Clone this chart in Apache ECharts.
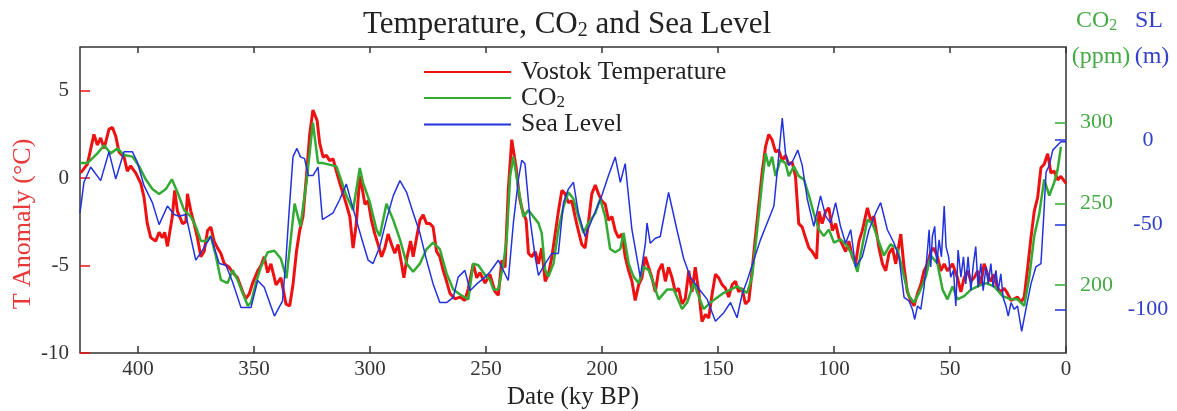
<!DOCTYPE html>
<html>
<head>
<meta charset="utf-8">
<script src="https://cdn.jsdelivr.net/npm/echarts@6/dist/echarts.min.js"></script>
<style>html,body{margin:0;padding:0;background:#fff}#c{width:1177px;height:411px}</style>
</head>
<body>
<div id="c"></div>
<script>
// ---- data (ky BP, value) ----
const tempAge = [424.7,421.8,419.0,417.5,416.1,414.6,412.5,411.0,409.6,408.2,406.0,404.6,403.2,401.0,398.8,397.4,396.0,394.5,392.4,390.9,389.5,388.5,387.3,385.2,384.2,383.0,380.8,379.4,378.7,377.2,375.8,374.4,372.9,371.5,370.0,368.6,367.2,365.7,364.3,362.8,360.7,359.2,357.1,354.9,353.5,352.0,350.6,348.4,347.0,345.6,344.1,342.7,340.5,338.4,336.2,334.6,333.2,331.7,330.3,328.9,327.4,326.0,324.6,323.8,322.8,321.7,320.2,318.8,317.4,315.9,314.5,313.0,311.6,310.2,308.7,307.3,305.9,304.4,303.2,302.2,300.8,299.4,297.9,296.5,295.0,293.6,292.2,290.7,289.3,287.9,286.4,285.4,284.0,282.5,281.4,279.9,278.5,277.1,275.6,274.2,272.8,271.3,269.9,268.4,267.0,265.5,263.4,261.2,259.1,257.6,255.5,254.0,252.6,250.4,248.3,246.1,244.7,243.2,241.8,240.4,238.9,238.2,237.0,235.6,234.2,232.7,231.7,230.3,228.8,227.4,226.0,224.5,223.1,221.6,220.2,218.8,217.3,215.9,214.5,213.0,211.6,210.2,208.7,207.3,205.9,204.4,202.9,201.5,200.1,198.6,197.2,195.7,194.3,192.9,191.4,190.0,188.5,187.1,185.7,184.2,182.8,181.3,179.9,178.5,177.0,175.6,174.1,172.7,171.3,169.8,168.4,167.0,165.5,164.1,162.6,161.2,159.8,158.3,156.9,155.4,154.0,152.5,151.1,149.7,148.2,146.8,145.4,143.9,142.5,141.1,139.6,138.2,136.7,135.3,133.9,132.4,131.0,129.5,128.1,126.7,125.2,123.8,122.3,120.9,119.5,118.0,116.6,115.2,113.7,112.3,110.8,109.4,107.5,106.5,105.1,103.6,102.2,100.7,99.3,97.9,96.4,95.0,93.6,92.1,90.7,89.2,87.8,85.6,84.2,82.8,80.6,79.1,77.7,76.3,74.8,73.4,71.2,69.8,68.4,66.9,65.5,64.0,62.6,61.2,59.7,58.3,56.9,55.4,54.0,52.5,51.1,48.9,46.8,45.3,43.9,42.4,41.0,39.6,38.1,36.7,35.3,33.8,32.4,31.0,29.5,28.1,26.6,25.2,23.7,22.3,20.9,19.4,18.0,16.5,15.1,13.7,12.2,10.8,9.4,7.9,6.5,5.1,3.6,2.2,0.0];
const tempVal = [0.3,0.8,2.5,1.9,2.3,1.7,2.8,2.9,2.4,1.5,1.2,0.4,0.7,0.3,-0.3,-1.1,-2.6,-3.4,-3.6,-3.1,-3.4,-3.1,-3.9,-2.2,-0.7,-1.9,-2.6,-2.5,-0.9,-1.9,-2.6,-3.4,-4.5,-4.2,-3.0,-2.8,-3.6,-4.0,-4.3,-4.9,-5.1,-5.4,-5.7,-6.5,-6.9,-6.6,-6.0,-5.3,-5.0,-4.5,-5.4,-4.9,-6.1,-5.7,-7.2,-7.3,-6.1,-4.2,-3.0,-2.2,0.1,2.5,3.9,4.0,3.3,2.0,1.2,1.3,1.0,1.1,0.4,-0.3,-0.9,-1.5,-2.2,-4.0,-2.6,0.1,-0.7,-1.5,-1.3,-2.4,-3.2,-3.8,-4.5,-4.0,-3.2,-3.8,-4.3,-3.8,-4.9,-5.7,-4.5,-3.6,-4.5,-3.4,-2.4,-2.1,-2.6,-2.6,-2.8,-4.2,-4.5,-5.3,-5.9,-6.6,-6.9,-6.8,-7.0,-6.3,-4.9,-5.7,-5.4,-6.0,-5.5,-6.5,-6.7,-4.7,-5.1,-0.7,2.2,2.3,0.6,-1.1,-1.9,-2.4,-4.3,-4.5,-4.2,-4.9,-4.0,-5.9,-5.5,-4.5,-3.2,-1.9,-0.7,-0.9,-1.4,-1.3,-2.2,-3.0,-3.8,-4.0,-2.6,-0.9,-0.4,-0.9,-1.3,-1.5,-2.4,-2.2,-3.0,-3.4,-3.2,-4.5,-5.3,-5.9,-7.0,-6.1,-5.7,-4.5,-5.1,-5.7,-6.5,-5.3,-4.9,-5.9,-5.1,-5.7,-6.5,-6.3,-7.2,-6.9,-5.3,-6.5,-5.1,-6.5,-8.2,-7.8,-8.0,-6.6,-5.5,-5.7,-6.1,-6.3,-6.8,-6.1,-5.9,-6.5,-6.3,-7.2,-7.0,-5.3,-3.4,-1.5,0.3,1.8,2.5,2.2,1.5,1.6,1.0,1.3,0.8,0.9,0.1,-2.6,-2.8,-3.4,-4.0,-4.2,-4.6,-1.9,-2.6,-1.9,-1.7,-3.0,-2.6,-3.4,-3.8,-4.2,-3.6,-4.5,-4.9,-3.6,-3.0,-1.7,-2.4,-2.2,-4.0,-4.9,-5.3,-4.3,-4.0,-4.9,-3.2,-5.1,-6.5,-7.0,-7.3,-6.6,-6.1,-5.3,-4.9,-4.2,-4.0,-4.5,-5.3,-4.9,-5.3,-4.9,-5.7,-6.5,-5.7,-5.3,-5.9,-5.7,-5.3,-6.1,-4.9,-5.5,-5.9,-5.5,-6.3,-6.5,-6.3,-6.6,-7.0,-6.9,-6.8,-7.1,-6.8,-5.1,-3.4,-1.9,-1.1,0.6,0.8,1.4,0.3,0.4,-0.1,0.1,-0.3];

const co2Age = [425.0,421.8,417.5,414.6,411.8,408.9,406.0,402.4,399.5,396.7,393.8,390.9,388.0,385.4,383.0,380.1,377.2,375.1,372.9,370.8,368.6,366.5,364.3,361.4,359.2,357.1,354.9,352.7,351.3,349.2,347.0,344.1,341.2,338.4,336.0,332.5,330.0,327.4,324.6,322.4,320.2,314.5,313.0,310.2,307.3,304.4,303.0,300.1,297.2,295.8,292.9,290.0,287.1,284.2,281.4,278.5,275.6,272.8,269.9,267.0,264.1,261.2,257.6,255.5,253.3,250.4,248.3,246.8,244.7,242.5,241.1,239.6,238.2,236.0,233.9,231.7,229.6,227.4,226.0,224.5,223.1,220.9,218.8,216.6,214.5,212.3,210.2,208.0,205.9,202.9,200.8,198.6,196.5,194.3,192.1,190.7,188.5,186.4,184.2,182.1,179.9,177.8,175.6,172.0,169.1,165.5,163.3,160.5,156.2,153.3,147.5,144.6,141.8,139.6,137.4,135.3,133.1,131.0,129.5,128.1,126.7,125.2,123.1,120.9,119.5,117.3,115.2,113.0,110.8,108.7,106.5,104.4,102.2,100.0,97.2,94.3,92.1,89.9,87.8,85.6,83.5,81.3,78.5,75.6,72.7,69.8,67.7,65.5,63.3,60.4,58.3,55.4,53.2,51.1,48.9,46.8,43.9,41.0,38.1,34.5,31.0,27.3,23.7,20.9,18.0,15.8,13.7,11.5,9.4,7.2,5.1,3.6,2.2];
const co2Val = [275,275,281,286,281,284,280,279,273,265,259,256,259,265,257,246,242,236,227,227,230,218,203,201,209,203,195,187,189,201,211,220,221,216,204,250,236,263,300,275,275,273,267,255,246,272,263,251,234,230,250,240,228,213,208,213,222,226,222,207,197,194,191,213,212,206,203,197,197,213,228,267,279,259,242,246,242,238,232,209,205,213,234,248,257,253,242,232,238,244,253,242,222,220,222,232,213,205,201,211,209,201,191,197,197,185,189,201,185,189,195,197,199,197,195,205,234,263,281,273,279,267,277,275,267,273,267,265,255,244,234,230,234,226,228,224,218,208,224,240,238,229,218,225,222,205,193,189,195,205,218,213,197,191,199,191,193,197,199,201,199,193,191,191,187,205,230,244,265,255,263,271,285];

const slAge = [425.0,423.3,420.4,416.1,412.5,409.6,406.0,402.4,400.3,397.4,393.8,390.9,387.3,384.4,382.3,379.4,375.1,372.2,368.6,365.0,362.1,359.2,355.6,351.3,348.4,345.6,341.2,337.7,336.2,335.0,333.2,331.5,330.0,328.2,326.6,324.6,322.4,320.5,318.1,315.9,313.0,310.2,308.0,305.1,303.0,300.8,298.7,295.8,292.9,290.0,287.1,284.2,281.4,278.5,275.6,272.8,269.9,267.0,264.1,262.0,259.1,256.9,254.0,250.4,248.3,244.7,240.4,238.2,236.0,234.6,233.2,231.0,228.8,227.4,224.5,221.6,218.8,216.6,214.5,212.3,210.2,207.3,203.7,200.1,197.2,194.3,192.1,190.0,187.1,183.5,181.3,180.6,179.2,177.0,174.9,171.3,167.7,164.8,161.9,157.6,154.7,151.1,147.5,144.6,141.8,139.6,137.4,134.6,131.7,128.8,125.9,124.5,122.3,120.9,119.5,118.0,115.6,113.7,111.5,108.7,105.8,103.6,101.5,99.3,97.2,95.0,92.8,90.7,87.8,84.9,82.0,79.9,77.0,74.1,72.0,69.8,67.7,66.2,65.2,64.0,62.6,61.2,59.7,59.0,58.3,57.6,56.6,55.7,54.7,53.7,52.5,51.7,50.6,49.7,48.5,47.5,46.5,45.3,44.2,43.2,42.2,41.0,39.9,38.9,37.9,36.7,35.7,34.5,33.5,32.4,31.4,30.2,29.2,28.1,27.1,25.9,24.9,23.7,22.3,20.9,19.1,17.3,15.1,13.0,10.8,9.6,8.6,7.2,5.7,4.3,2.2,0.0];
const slVal = [-43,-25,-16,-24,-7,-23,-7,-7,-13,-27,-37,-50,-39,-44,-45,-44,-71,-65,-57,-73,-74,-84,-99,-99,-83,-87,-104,-95,-70,-45,-10,-5,-10,-11,-21,-21,-16,-47,-45,-43,-35,-26,-37,-51,-61,-71,-73,-63,-47,-33,-24,-31,-43,-55,-71,-85,-96,-96,-93,-81,-77,-89,-85,-81,-78,-71,-83,-49,-23,-12,-14,-47,-69,-80,-73,-67,-67,-37,-29,-25,-43,-57,-45,-33,-21,-10,-25,-14,-53,-81,-61,-49,-61,-58,-57,-31,-53,-70,-81,-89,-94,-107,-102,-96,-105,-91,-83,-71,-59,-49,-39,-19,13,-8,-15,-13,-6,-15,-35,-51,-33,-45,-49,-37,-51,-61,-53,-75,-69,-53,-43,-37,-53,-61,-69,-93,-95,-100,-106,-98,-100,-87,-65,-53,-75,-57,-51,-73,-59,-69,-39,-63,-69,-81,-77,-98,-65,-81,-69,-85,-69,-89,-73,-63,-87,-73,-89,-75,-85,-73,-87,-77,-89,-79,-93,-98,-104,-96,-100,-98,-113,-100,-85,-75,-73,-45,-19,-15,-6,-4,-1,-1];

const xTicks = [0,50,100,150,200,250,300,350,400];
const tTicks = [-10,-5,0,5];
const co2Ticks = [200,250,300];
const slTicks = [-100,-50,0];

const zip = (a, b) => a.map((v, i) => [v, b[i]]);
const SERIF = "'Liberation Serif','Times New Roman',serif";
const RED = '#ee1111', GREEN = '#33aa33', BLUE = '#2233dd';
const RED_T = '#e83838', GREEN_T = '#44aa44', BLUE_T = '#3340c8';

const chart = echarts.init(document.getElementById('c'), null, {renderer: 'canvas'});
const xCommon = {
  type: 'value', min: 0, max: 425, inverse: true,
  axisLine: {show: false, onZero: false}, splitLine: {show: false}
};
chart.setOption({
  animation: false,
  backgroundColor: '#fff',
  title: {
    text: 'Temperature, CO{s|2} and Sea Level',
    left: 358, top: 3,
    textStyle: {
      fontFamily: SERIF, fontSize: 31, fontWeight: 'normal', color: '#222',
      rich: {s: {fontFamily: SERIF, fontSize: 20, color: '#222', padding: [13, 0, 0, 0]}}
    }
  },
  grid: {left: 80, right: 111, top: 47, bottom: 58, show: true, borderColor: '#333', borderWidth: 1.5,
         backgroundColor: 'transparent', containLabel: false, outerBoundsMode: 'none'},
  legend: {
    orient: 'vertical', left: 423, top: 59, padding: 0, itemWidth: 87, itemHeight: 14, itemGap: 0,
    data: ['Vostok Temperature', 'CO2', 'Sea Level'],
    itemStyle: {opacity: 0, color: 'rgba(0,0,0,0)', borderWidth: 0},
    formatter: n => n === 'CO2' ? '{n|CO}{s|2}' : '{n|' + n + '}',
    textStyle: {
      fontFamily: SERIF, fontSize: 25, color: '#222', padding: [0, 0, 0, 5],
      rich: {
        n: {fontFamily: SERIF, fontSize: 25.5, color: '#222', lineHeight: 25},
        s: {fontFamily: SERIF, fontSize: 17, color: '#222', padding: [10, 0, 0, 0]}
      }
    }
  },
  xAxis: [
    Object.assign({}, xCommon, {
      position: 'bottom',
      name: 'Date (ky BP)', nameLocation: 'middle', nameGap: 16,
      nameTextStyle: {fontFamily: SERIF, fontSize: 25, color: '#222'},
      axisTick: {inside: true, length: 7, customValues: xTicks, lineStyle: {color: '#333', width: 1.5}},
      axisLabel: {customValues: xTicks, fontFamily: SERIF, fontSize: 21, color: '#333', margin: 6}
    }),
    Object.assign({}, xCommon, {
      position: 'top',
      axisTick: {inside: true, length: 6, customValues: xTicks, lineStyle: {color: '#333', width: 1.5}},
      axisLabel: {show: false}
    })
  ],
  yAxis: [
    {
      type: 'value', min: -10, max: 7.5, position: 'left',
      axisLine: {show: false, onZero: false}, splitLine: {show: false},
      axisTick: {inside: true, length: 10, customValues: tTicks, lineStyle: {color: RED, width: 1.5}},
      axisLabel: {customValues: tTicks, fontFamily: SERIF, fontSize: 21, color: '#333', margin: 11}
    },
    {
      type: 'value', min: 157.9, max: 346.6, position: 'right',
      axisLine: {show: false, onZero: false}, splitLine: {show: false},
      axisTick: {inside: true, length: 11, customValues: co2Ticks, lineStyle: {color: GREEN, width: 1.5}},
      axisLabel: {customValues: co2Ticks, fontFamily: SERIF, fontSize: 22, color: GREEN_T, margin: 14}
    },
    {
      type: 'value', min: -125.8, max: 54.9, position: 'right',
      axisLine: {show: false, onZero: false}, splitLine: {show: false},
      axisTick: {inside: true, length: 11, customValues: slTicks, lineStyle: {color: BLUE, width: 1.5}},
      axisLabel: {customValues: slTicks, fontFamily: SERIF, fontSize: 22, color: BLUE_T, margin: 82, align: 'center'}
    }
  ],
  graphic: [
    {type: 'text', x: 23, y: 224, rotation: Math.PI / 2,
     style: {text: 'T Anomaly (°C)', font: '26px ' + SERIF, fill: RED_T, textAlign: 'center', textVerticalAlign: 'middle'}},
    {type: 'text', x: 1076, y: 21,
     style: {text: '{a|CO}{b|2}', textVerticalAlign: 'middle', textAlign: 'left',
       rich: {a: {fontFamily: SERIF, fontSize: 24, fill: GREEN_T, color: GREEN_T},
              b: {fontFamily: SERIF, fontSize: 16, fill: GREEN_T, color: GREEN_T, padding: [10, 0, 0, 0]}}}},
    {type: 'text', x: 1101, y: 57,
     style: {text: '(ppm)', font: '24px ' + SERIF, fill: GREEN_T, textAlign: 'center', textVerticalAlign: 'middle'}},
    {type: 'text', x: 1149, y: 21,
     style: {text: 'SL', font: '24px ' + SERIF, fill: BLUE_T, textAlign: 'center', textVerticalAlign: 'middle'}},
    {type: 'text', x: 1152, y: 57,
     style: {text: '(m)', font: '24px ' + SERIF, fill: BLUE_T, textAlign: 'center', textVerticalAlign: 'middle'}}
  ],
  series: [
    {name: 'Vostok Temperature', type: 'line', xAxisIndex: 0, yAxisIndex: 0, data: zip(tempAge, tempVal),
     symbol: 'none', lineStyle: {color: RED, width: 3}, itemStyle: {color: RED}, z: 2},
    {name: 'CO2', type: 'line', xAxisIndex: 0, yAxisIndex: 1, data: zip(co2Age, co2Val),
     symbol: 'none', lineStyle: {color: GREEN, width: 2.5}, itemStyle: {color: GREEN}, z: 3},
    {name: 'Sea Level', type: 'line', xAxisIndex: 0, yAxisIndex: 2, data: zip(slAge, slVal),
     symbol: 'none', lineStyle: {color: BLUE, width: 1.5}, itemStyle: {color: BLUE}, z: 4}
  ]
});
</script>
</body>
</html>
